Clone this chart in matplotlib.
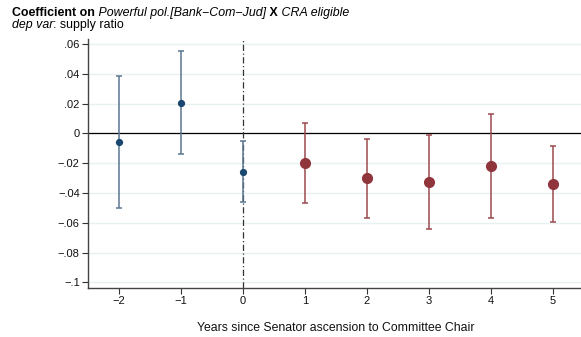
import matplotlib
matplotlib.use("Agg")
import matplotlib.pyplot as plt

plt.rcParams['font.family'] = ['Liberation Sans', 'DejaVu Sans']
plt.rcParams['axes.unicode_minus'] = True

# Event-time coefficients with confidence intervals
pre_years = [-2, -1, 0]
pre_coef = [-0.0058, 0.0204, -0.0256]
pre_lo = [-0.0502, -0.0136, -0.0463]
pre_hi = [0.0387, 0.0551, -0.0049]

post_years = [1, 2, 3, 4, 5]
post_coef = [-0.0198, -0.0302, -0.0329, -0.0216, -0.0340]
post_lo = [-0.0469, -0.0565, -0.0643, -0.0565, -0.0593]
post_hi = [0.0073, -0.0040, -0.0011, 0.0133, -0.0087]

y_ticks = [0.06, 0.04, 0.02, 0, -0.02, -0.04, -0.06, -0.08, -0.1]
y_labels = ['.06', '.04', '.02', '0', '\u2212.02', '\u2212.04', '\u2212.06', '\u2212.08', '\u2212.1']
x_ticks = [-2, -1, 0, 1, 2, 3, 4, 5]
x_labels = ['\u22122', '\u22121', '0', '1', '2', '3', '4', '5']

NAVY = '#1a476f'
NAVY_BAR = '#5b7692'
MAROON = '#90353b'
MAROON_BAR = '#9d4a50'

fig = plt.figure(figsize=(5.81, 3.37), dpi=100)
ax = fig.add_axes([88 / 581, 49 / 337, 496 / 581, 249 / 337])

for v in y_ticks:
    ax.axhline(v, color='#e8f0f2', lw=1.0, zorder=0)
ax.axhline(0, color='black', lw=0.9, zorder=1)
ax.axvline(0, color='#333333', lw=0.9, linestyle=(0, (5, 2, 1, 2)), zorder=1)

def draw(years, coef, lo, hi, mcol, bcol, ms):
    yerr = [[c - l for c, l in zip(coef, lo)], [h - c for c, h in zip(coef, hi)]]
    ax.errorbar(years, coef, yerr=yerr, fmt='none', ecolor=bcol, elinewidth=1.1,
                capsize=2.4, capthick=1.1, zorder=2)
    ax.plot(years, coef, 'o', color=mcol, ms=ms, mec=mcol, zorder=3)

draw(pre_years, pre_coef, pre_lo, pre_hi, NAVY, NAVY_BAR, 4.2)
draw(post_years, post_coef, post_lo, post_hi, MAROON, MAROON_BAR, 7.0)

ax.set_xlim(-2.5, 5.5)
ax.set_ylim(-0.1038, 0.0634)
ax.set_yticks(y_ticks)
ax.set_yticklabels(y_labels)
ax.set_xticks(x_ticks)
ax.set_xticklabels(x_labels)
ax.tick_params(axis='both', direction='out', length=4, width=0.8, color='#333333',
               labelsize=8, pad=2, labelcolor='#111111')
for s in ['top', 'right']:
    ax.spines[s].set_visible(False)
for s in ['left', 'bottom']:
    ax.spines[s].set_color('#444444')
    ax.spines[s].set_linewidth(1.0)

ax.set_xlabel('Years since Senator ascension to Committee Chair', fontsize=8.8,
              labelpad=11, color='#111111')

# Two-line heading with mixed weights and styles
FS = 8.9
t1 = fig.text(12 / 581, 1 - 16 / 337, 'Coefficient on', fontsize=FS, fontweight='bold')
parts = [(' Powerful pol.[Bank\u2212Com\u2212Jud]', 'normal', 'italic'),
         (' X', 'bold', 'normal'),
         (' CRA eligible', 'normal', 'italic')]
prev = t1
for txt, w, st in parts:
    prev = ax.annotate(txt, xy=(1, 0), xycoords=prev, va='bottom', ha='left',
                       fontsize=FS, fontweight=w, fontstyle=st, annotation_clip=False)
l2 = fig.text(12 / 581, 1 - 28 / 337, 'dep var', fontsize=FS, fontstyle='italic')
ax.annotate(': supply ratio', xy=(1, 0), xycoords=l2, va='bottom', ha='left',
            fontsize=FS, annotation_clip=False)

fig.savefig('out.png', dpi=100)
